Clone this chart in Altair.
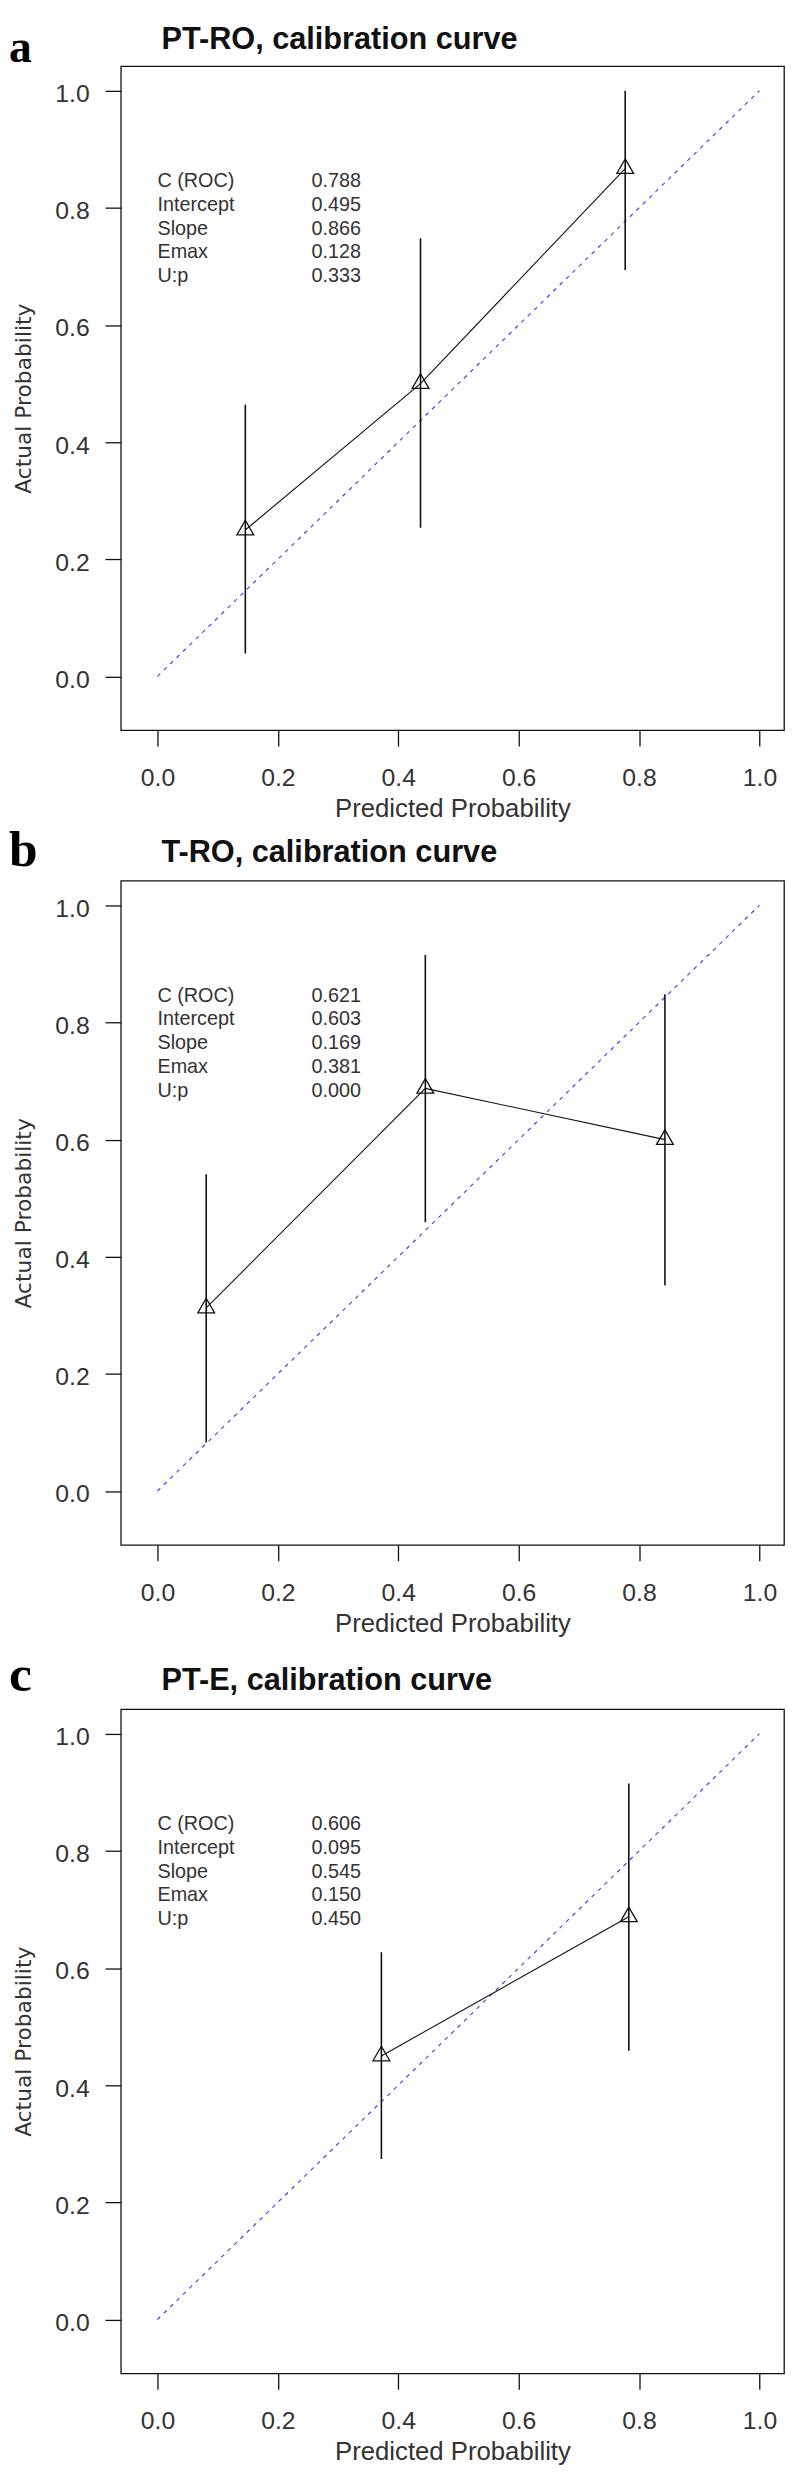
import altair as alt
import pandas as pd

# ---------------- data ----------------
panel_letters = ["a", "b", "c"]
panel_titles = ["PT-RO, calibration curve", "T-RO, calibration curve", "PT-E, calibration curve"]

a_pred = [0.146, 0.437, 0.777]
a_obs = [0.250, 0.500, 0.867]
a_lo = [0.039, 0.254, 0.694]
a_hi = [0.464, 0.748, 1.000]

b_pred = [0.081, 0.445, 0.843]
b_obs = [0.3125, 0.6875, 0.600]
b_lo = [0.083, 0.459, 0.351]
b_hi = [0.541, 0.915, 0.848]

c_pred = [0.372, 0.783]
c_obs = [0.450, 0.6875]
c_lo = [0.274, 0.459]
c_hi = [0.627, 0.915]

stat_names = ["C (ROC)", "Intercept", "Slope", "Emax", "U:p"]
a_stats = ["0.788", "0.495", "0.866", "0.128", "0.333"]
b_stats = ["0.621", "0.603", "0.169", "0.381", "0.000"]
c_stats = ["0.606", "0.095", "0.545", "0.150", "0.450"]

ideal = [0.0, 1.0]
tick_values = [0.0, 0.2, 0.4, 0.6, 0.8, 1.0]
x_domain = [-0.0608, 1.0408]
y_domain = [-0.092, 1.042]

# ---------------- styling ----------------
FONT = "Liberation Sans"
TXT = "#333333"
INK = "#111111"
BLUE = "#4646ee"
TRI = "M0,-1L0.866,0.5L-0.866,0.5Z"
STAT_X_NAMES = 0.0
STAT_X_VALUES = 0.256
STAT_Y_CENTER = 0.8456


def panel(letter, title, pred, obs, lo, hi, stats, letter_y, letter_size, title_y):
    df = pd.DataFrame({"pred": pred, "obs": obs, "lo": lo, "hi": hi})
    ideal_df = pd.DataFrame({"p": ideal, "a": ideal})
    xs = alt.Scale(domain=x_domain, nice=False, zero=False)
    ys = alt.Scale(domain=y_domain, nice=False, zero=False)
    xax = alt.Axis(values=tick_values, format=".1f", title="Predicted Probability",
                   labelPadding=20, titlePadding=5, titleFontSize=26, labelFlush=False,
                   labelOverlap=False)
    yax = alt.Axis(values=tick_values, format=".1f", title="Actual Probability",
                   labelPadding=16, labelOffset=3, titleFont="DejaVu Sans", titleFontSize=22,
                   titlePadding=20, labelFlush=False, labelOverlap=False)
    X = lambda f: alt.X(f, scale=xs, axis=xax)
    Y = lambda f: alt.Y(f, scale=ys, axis=yax)

    diag = alt.Chart(ideal_df).mark_line(color=BLUE, strokeDash=[4, 5], strokeWidth=1.2).encode(
        x=X("p:Q"), y=Y("a:Q"))
    conn = alt.Chart(df).mark_line(color=INK, strokeWidth=1.1).encode(
        x=X("pred:Q"), y=Y("obs:Q"))
    ci = alt.Chart(df).mark_rule(color=INK, strokeWidth=1.6).encode(
        x=X("pred:Q"), y=Y("lo:Q"), y2="hi:Q")
    tri = alt.Chart(df).mark_point(shape=TRI, size=384, filled=False, color=INK,
                                   strokeWidth=1.3, opacity=1).encode(
        x=X("pred:Q"), y=Y("obs:Q"))

    names_df = pd.DataFrame({"x": [STAT_X_NAMES], "y": [STAT_Y_CENTER], "t": ["\n".join(stat_names)]})
    vals_df = pd.DataFrame({"x": [STAT_X_VALUES], "y": [STAT_Y_CENTER], "t": ["\n".join(stats)]})
    names = alt.Chart(names_df).mark_text(align="left", baseline="middle", lineBreak="\n",
                                          lineHeight=24, fontSize=20, font=FONT, color=TXT).encode(
        x=X("x:Q"), y=Y("y:Q"), text="t:N")
    vals = alt.Chart(vals_df).mark_text(align="left", baseline="middle", lineBreak="\n",
                                        lineHeight=24, fontSize=20, font=FONT, color=TXT).encode(
        x=X("x:Q"), y=Y("y:Q"), text="t:N")

    lab = alt.Chart(pd.DataFrame({"t": [letter]})).mark_text(
        align="left", baseline="alphabetic", font="Liberation Serif", fontWeight="bold",
        fontSize=letter_size, color="#000000").encode(
        x=alt.value(-113), y=alt.value(letter_y), text="t:N")
    ttl = alt.Chart(pd.DataFrame({"t": [title]})).mark_text(
        align="left", baseline="alphabetic", font=FONT, fontWeight="bold",
        fontSize=31, color="#111111").encode(x=alt.value(41), y=alt.value(title_y), text="t:N")

    return alt.layer(diag, conn, ci, tri, names, vals, lab, ttl).properties(width=670, height=671)


pa = panel(panel_letters[0], panel_titles[0], a_pred, a_obs, a_lo, a_hi, a_stats, -4, 46, -17)
pb = panel(panel_letters[1], panel_titles[1], b_pred, b_obs, b_lo, b_hi, b_stats, -15, 52, -19)
pc = panel(panel_letters[2], panel_titles[2], c_pred, c_obs, c_lo, c_hi, c_stats, -18, 52, -19)

lower = alt.vconcat(pb, pc, spacing=166, bounds="flush")

chart = alt.vconcat(pa, lower, spacing=152, bounds="flush").properties(
    padding={"top": 3, "left": 0, "right": 0, "bottom": 0},
    background="white",
).configure_view(
    stroke=INK, strokeWidth=1.3
).configure_axis(
    grid=False, domain=False, ticks=True, tickSize=16, tickColor=INK, tickWidth=1.3,
    labelFont=FONT, labelFontSize=25, labelColor=TXT,
    titleFont=FONT, titleFontWeight="normal", titleColor=TXT,
)

chart.save("out.html", embed_options={"renderer": "svg", "actions": False})
